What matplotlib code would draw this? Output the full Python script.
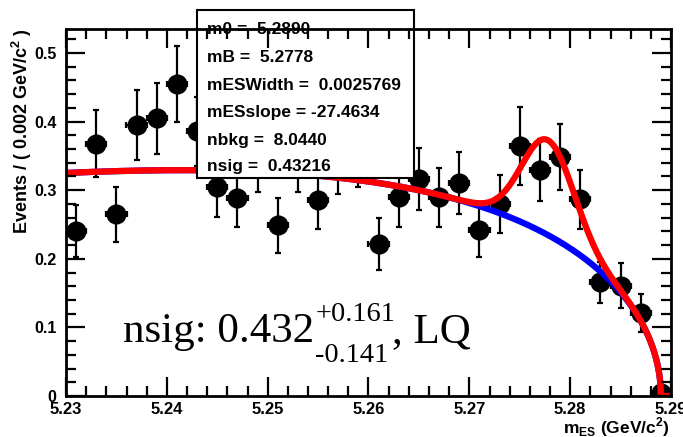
import numpy as np
import matplotlib
matplotlib.use("Agg")
import matplotlib.pyplot as plt
from matplotlib.ticker import MultipleLocator
from matplotlib.patches import Rectangle

plt.rcParams['font.family'] = ['Liberation Sans', 'DejaVu Sans']
plt.rcParams['mathtext.fontset'] = 'custom'
plt.rcParams['mathtext.rm'] = 'Liberation Sans:bold'
plt.rcParams['mathtext.bf'] = 'Liberation Sans:bold'

# ---- data ----
bin_centers = [5.231, 5.233, 5.235, 5.237, 5.239, 5.241, 5.243, 5.245, 5.247, 5.249,
               5.251, 5.253, 5.255, 5.257, 5.259, 5.261, 5.263, 5.265, 5.267, 5.269,
               5.271, 5.273, 5.275, 5.277, 5.279, 5.281, 5.283, 5.285, 5.287, 5.289]
events = [0.240, 0.368, 0.265, 0.395, 0.405, 0.455, 0.386, 0.304, 0.289, 0.345,
          0.249, 0.345, 0.286, 0.342, 0.352, 0.222, 0.290, 0.316, 0.290, 0.310,
          0.242, 0.280, 0.364, 0.329, 0.349, 0.287, 0.166, 0.161, 0.121, 0.005]
errors = [0.038, 0.049, 0.040, 0.051, 0.052, 0.055, 0.050, 0.043, 0.043, 0.047,
          0.040, 0.047, 0.043, 0.047, 0.047, 0.038, 0.043, 0.045, 0.043, 0.045,
          0.039, 0.042, 0.057, 0.045, 0.048, 0.043, 0.030, 0.033, 0.027, 0.0]
bin_half = 0.001

# fit parameters (from stats box)
m0 = 5.2890
mB = 5.2778
mESWidth = 0.0025769
mESslope = -27.4634
nbkg = 8.0440
nsig = 0.43216
stat_lines = ["m0 =  5.2890", "mB =  5.2778", "mESWidth =  0.0025769",
              "mESslope = -27.4634", "nbkg =  8.0440", "nsig =  0.43216"]

xticks = [5.23, 5.24, 5.25, 5.26, 5.27, 5.28, 5.29]
xticklabels = ['5.23', '5.24', '5.25', '5.26', '5.27', '5.28', '5.29']
yticks = [0, 0.1, 0.2, 0.3, 0.4, 0.5]
yticklabels = ['0', '0.1', '0.2', '0.3', '0.4', '0.5']

xmin, xmax = 5.23, 5.29
ymin, ymax = 0.0, 0.535
binw = 0.002

def argus(m):
    z = 1.0 - (m / m0) ** 2
    z = np.clip(z, 0, None)
    return m * np.sqrt(z) * np.exp(mESslope * z)

def gauss(m):
    return np.exp(-0.5 * ((m - mB) / mESWidth) ** 2)

fine = np.linspace(xmin, xmax, 20001)
norm_b = np.trapezoid(argus(fine), fine)
norm_s = np.trapezoid(gauss(fine), fine)

# curve normalised to the plotted data sum (RooFit style)
ntot = float(np.sum(events))
fb = nbkg / (nbkg + nsig)
mm = np.concatenate([np.linspace(xmin, m0, 1500), [xmax]])
bkg = ntot * fb * binw * argus(mm) / norm_b
tot = bkg + ntot * (1 - fb) * binw * gauss(mm) / norm_s

fig = plt.figure(figsize=(6.83, 4.37), dpi=100)
ax = fig.add_axes([66/683, 41/437, (671-66)/683, (396-29)/437])

ax.errorbar(bin_centers, events, yerr=errors, xerr=bin_half, fmt='o', color='black',
            markersize=13.5, elinewidth=1.6, capsize=2.5, capthick=1.6, zorder=3)
ax.plot(mm, bkg, color='blue', lw=4.5, zorder=4, solid_capstyle='butt')
ax.plot(mm, tot, color='red', lw=4.5, zorder=4.5, solid_capstyle='butt')

ax.set_xlim(xmin, xmax)
ax.set_ylim(ymin, ymax)
ax.xaxis.set_minor_locator(MultipleLocator(0.002))
ax.yaxis.set_minor_locator(MultipleLocator(0.02))
ax.set_xticks(xticks)
ax.set_xticklabels(xticklabels, fontweight='bold', fontsize=12)
ax.set_yticks(yticks)
ax.set_yticklabels(yticklabels, fontweight='bold', fontsize=11.5)
ax.tick_params(which='both', direction='in', top=True, right=True, width=1.6)
ax.tick_params(which='major', length=14)
ax.tick_params(which='minor', length=7)
ax.tick_params(axis='x', which='major', pad=4)
ax.tick_params(axis='y', which='major', pad=7)
for s in ax.spines.values():
    s.set_linewidth(2)
    s.set_zorder(10)
ax.xaxis.set_zorder(10)
ax.yaxis.set_zorder(10)

# axis titles
fig.text(28/683, 1 - 28/437, r"Events / ( 0.002 GeV/c$^{2}$ )", fontsize=13,
         fontweight='bold', rotation=90, rotation_mode='anchor',
         ha='right', va='baseline')
fig.text(670/683, 1 - 433/437, r"m$_{\mathrm{ES}}$ (GeV/c$^{2}$)", fontsize=12.5,
         fontweight='bold', ha='right', va='baseline')

# stats box (axes fraction coords)
def fx(px):
    return (px - 66) / (671 - 66)
def fy(py):
    return (396 - py) / (396 - 29)
box = Rectangle((fx(197), fy(178)), fx(414) - fx(197), fy(10) - fy(178),
                transform=ax.transAxes, facecolor='white', edgecolor='black',
                linewidth=1.5, zorder=6, clip_on=False)
ax.add_patch(box)
row_y = [30, 57, 85, 112, 140, 167]
for ln, yy in zip(stat_lines, row_y):
    ax.text(fx(207), fy(yy), ln, transform=ax.transAxes, fontsize=12.5,
            fontweight='bold', va='center', ha='left', zorder=7, clip_on=False)

serif = ['Liberation Serif', 'DejaVu Serif']
ax.text(fx(123), fy(342), "nsig: 0.432", transform=ax.transAxes, fontsize=31,
        family=serif, va='baseline', ha='left', zorder=5)
ax.text(fx(316), fy(321), "+0.161", transform=ax.transAxes, fontsize=20.5,
        family=serif, va='baseline', ha='left', zorder=5)
ax.text(fx(315), fy(362), "-0.141", transform=ax.transAxes, fontsize=20.5,
        family=serif, va='baseline', ha='left', zorder=5)
ax.text(fx(392), fy(342), ", LQ", transform=ax.transAxes, fontsize=31,
        family=serif, va='baseline', ha='left', zorder=5)

fig.savefig("out.png", dpi=100)
